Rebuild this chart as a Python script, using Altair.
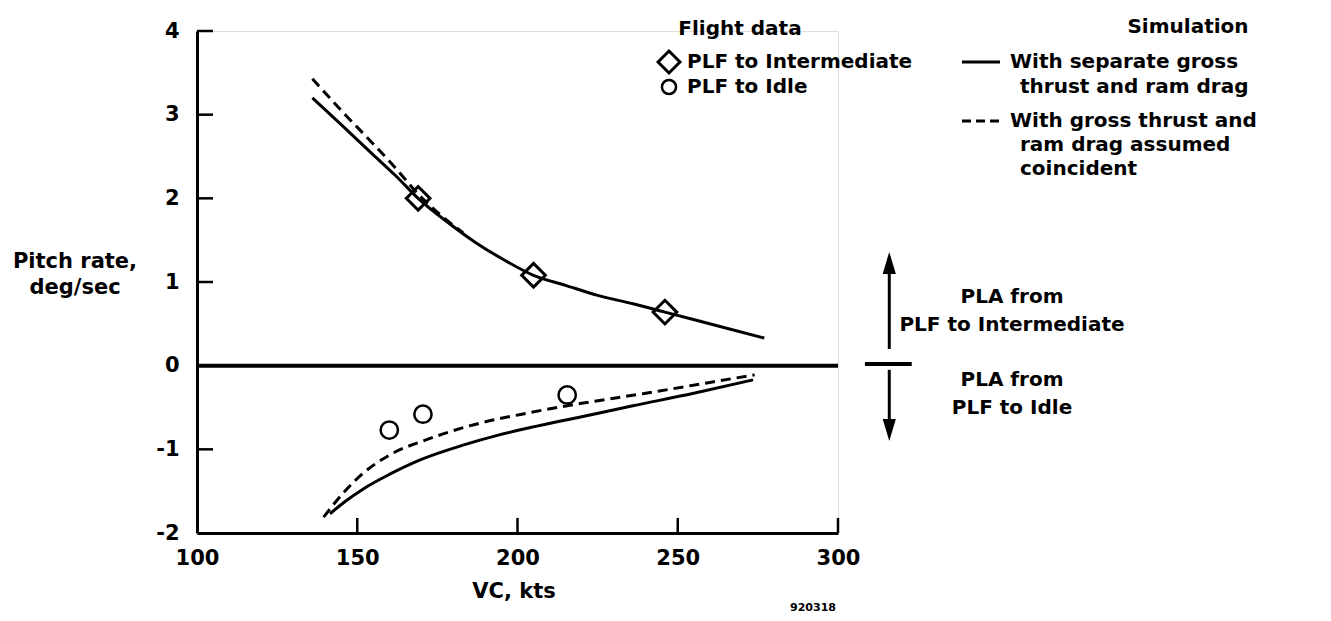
import altair as alt
import pandas as pd

# ---------------- data ----------------
vc_sep_up = [136, 145, 155, 162, 169, 178, 187, 196, 205, 215, 225, 236, 246, 262, 277]
rate_sep_up = [3.2, 2.88, 2.52, 2.27, 2.0, 1.72, 1.47, 1.26, 1.08, 0.96, 0.84, 0.74, 0.64, 0.48, 0.33]

vc_coinc_up = [136, 145, 155, 162, 169, 176, 183]
rate_coinc_up = [3.43, 3.05, 2.65, 2.36, 2.05, 1.80, 1.59]

vc_sep_low = [141.5, 146, 152, 160, 170, 183, 194, 204, 220, 236, 255, 273.5]
rate_sep_low = [-1.77, -1.63, -1.47, -1.30, -1.12, -0.95, -0.83, -0.74, -0.61, -0.48, -0.33, -0.17]

vc_coinc_low = [139.5, 145, 152, 160, 172.7, 185, 204, 220, 240, 260, 274]
rate_coinc_low = [-1.81, -1.55, -1.28, -1.07, -0.87, -0.72, -0.56, -0.45, -0.33, -0.2, -0.11]

vc_flight_int = [169, 205, 246]
rate_flight_int = [2.0, 1.08, 0.64]

vc_flight_idle = [160, 170.5, 215.5]
rate_flight_idle = [-0.77, -0.58, -0.35]

x_ticks = [100, 150, 200, 250, 300]
y_ticks = [-2, -1, 0, 1, 2, 3, 4]

FONT = "DejaVu Sans"
XS = alt.Scale(domain=[100, 300], nice=False, zero=False)
YS = alt.Scale(domain=[-2, 4], nice=False, zero=False)

xaxis = alt.Axis(values=x_ticks, ticks=False, grid=False, domainWidth=3, domainColor="black",
                 labelFont=FONT, labelFontSize=21, labelFontWeight="bold", labelColor="black",
                 labelPadding=14, title=None, labelFlush=False, labelOverlap=False,
                 labelExpr="'' + datum.value")
yaxis = alt.Axis(values=y_ticks, ticks=False, grid=False, domainWidth=3, domainColor="black",
                 labelFont=FONT, labelFontSize=21, labelFontWeight="bold", labelColor="black",
                 labelPadding=18, title=None, labelFlush=False, labelOverlap=False,
                 labelExpr="'' + datum.value")


def xy(df):
    return dict(x=alt.X("vc:Q", scale=XS, axis=xaxis), y=alt.Y("rate:Q", scale=YS, axis=yaxis))


def curve(xs, ys, dash=None):
    df = pd.DataFrame({"vc": xs, "rate": ys})
    kw = dict(color="black", strokeWidth=3, interpolate="monotone", strokeCap="butt")
    if dash:
        kw["strokeDash"] = dash
    return alt.Chart(df).mark_line(**kw).encode(**xy(df))


layers = []
layers.append(curve(vc_sep_up, rate_sep_up))
layers.append(curve(vc_coinc_up, rate_coinc_up, [10, 6]))
layers.append(curve(vc_sep_low, rate_sep_low))
layers.append(curve(vc_coinc_low, rate_coinc_low, [10, 6]))

# zero line
zero_df = pd.DataFrame({"vc": [100], "vc2": [300], "rate": [0]})
layers.append(alt.Chart(zero_df).mark_rule(color="black", strokeWidth=4).encode(
    x=alt.X("vc:Q", scale=XS, axis=xaxis), x2="vc2:Q", y=alt.Y("rate:Q", scale=YS, axis=yaxis)))

# inward ticks
xt_df = pd.DataFrame({"vc": x_ticks[1:], "rate": [-2] * 4, "rate2": [-1.82] * 4})
layers.append(alt.Chart(xt_df).mark_rule(color="black", strokeWidth=2.5).encode(
    x=alt.X("vc:Q", scale=XS, axis=xaxis), y=alt.Y("rate:Q", scale=YS, axis=yaxis), y2="rate2:Q"))
yt_df = pd.DataFrame({"rate": y_ticks[1:], "vc": [100] * 6, "vc2": [105] * 6})
layers.append(alt.Chart(yt_df).mark_rule(color="black", strokeWidth=2.5).encode(
    x=alt.X("vc:Q", scale=XS, axis=xaxis), x2="vc2:Q", y=alt.Y("rate:Q", scale=YS, axis=yaxis)))

# flight data markers
int_df = pd.DataFrame({"vc": vc_flight_int, "rate": rate_flight_int})
layers.append(alt.Chart(int_df).mark_point(shape="diamond", size=560, filled=False, color="black",
                                           strokeWidth=3, opacity=1).encode(**xy(int_df)))
idle_df = pd.DataFrame({"vc": vc_flight_idle, "rate": rate_flight_idle})
layers.append(alt.Chart(idle_df).mark_point(shape="circle", size=300, filled=False, color="black",
                                            strokeWidth=2.5, opacity=1).encode(**xy(idle_df)))

# right-hand arrows annotation (data coords beyond the domain)
arr_df = pd.DataFrame({"vc": [316, 316], "rate": [0.2, -0.05], "rate2": [1.3, -0.82]})
layers.append(alt.Chart(arr_df).mark_rule(color="black", strokeWidth=3).encode(
    x=alt.X("vc:Q", scale=XS, axis=xaxis), y=alt.Y("rate:Q", scale=YS, axis=yaxis), y2="rate2:Q"))
bar_df = pd.DataFrame({"vc": [308.4], "vc2": [323], "rate": [0.02]})
layers.append(alt.Chart(bar_df).mark_rule(color="black", strokeWidth=4).encode(
    x=alt.X("vc:Q", scale=XS, axis=xaxis), x2="vc2:Q", y=alt.Y("rate:Q", scale=YS, axis=yaxis)))
up_df = pd.DataFrame({"vc": [316], "rate": [1.36]})
layers.append(alt.Chart(up_df).mark_point(shape="M0,0L0.6,2L-0.6,2Z", size=484, filled=True,
                                          color="black", opacity=1).encode(**xy(up_df)))
dn_df = pd.DataFrame({"vc": [316], "rate": [-0.9]})
layers.append(alt.Chart(dn_df).mark_point(shape="M0,0L0.6,-2L-0.6,-2Z", size=484, filled=True,
                                          color="black", opacity=1).encode(**xy(dn_df)))


def txt(s, px, py, size=21, align="center"):
    return alt.Chart(pd.DataFrame({"t": [s]})).mark_text(
        font=FONT, fontSize=size, fontWeight="bold", color="black", align=align, baseline="middle"
    ).encode(text="t:N", x=alt.value(px), y=alt.value(py))


# plot area origin is at page (197, 31)
OX, OY = 197, 31
texts = [
    ("Pitch rate,", 75, 262, 21, "center"),
    ("deg/sec", 75, 288, 21, "center"),
    ("VC, kts", 514, 592, 21, "center"),
    ("920318", 813, 608, 11, "center"),
    ("Flight data", 740, 29, 20, "center"),
    ("PLF to Intermediate", 687, 62, 20, "left"),
    ("PLF to Idle", 687, 87, 20, "left"),
    ("Simulation", 1188, 27, 20, "center"),
    ("With separate gross", 1010, 62, 20, "left"),
    ("thrust and ram drag", 1020, 87, 20, "left"),
    ("With gross thrust and", 1010, 121, 20, "left"),
    ("ram drag assumed", 1020, 145, 20, "left"),
    ("coincident", 1020, 169, 20, "left"),
    ("PLA from", 1012, 297, 20, "center"),
    ("PLF to Intermediate", 1012, 325, 20, "center"),
    ("PLA from", 1012, 380, 20, "center"),
    ("PLF to Idle", 1012, 408, 20, "center"),
]
for s, px, py, sz, al in texts:
    layers.append(txt(s, px - OX, py - OY, sz, al))

# legend symbols
layers.append(alt.Chart(pd.DataFrame({"a": [0]})).mark_point(
    shape="diamond", size=480, filled=False, color="black", strokeWidth=3, opacity=1
).encode(x=alt.value(669 - OX), y=alt.value(62 - OY)))
layers.append(alt.Chart(pd.DataFrame({"a": [0]})).mark_point(
    shape="circle", size=200, filled=False, color="black", strokeWidth=2.5, opacity=1
).encode(x=alt.value(669 - OX), y=alt.value(87 - OY)))
layers.append(alt.Chart(pd.DataFrame({"a": [0]})).mark_rule(color="black", strokeWidth=3).encode(
    x=alt.value(962 - OX), x2=alt.value(1000 - OX), y=alt.value(62 - OY)))
layers.append(alt.Chart(pd.DataFrame({"a": [0]})).mark_rule(
    color="black", strokeWidth=3, strokeDash=[9, 5]).encode(
    x=alt.value(962 - OX), x2=alt.value(1000 - OX), y=alt.value(121 - OY)))

chart = alt.layer(*layers).properties(
    width=641, height=502,
    autosize=alt.AutoSizeParams(type="none"),
    padding={"left": 189, "top": 23, "right": 474, "bottom": 86},
).configure_view(stroke=None).configure(background="white")

chart.save("out.html", embed_options={"renderer": "svg", "actions": False})
